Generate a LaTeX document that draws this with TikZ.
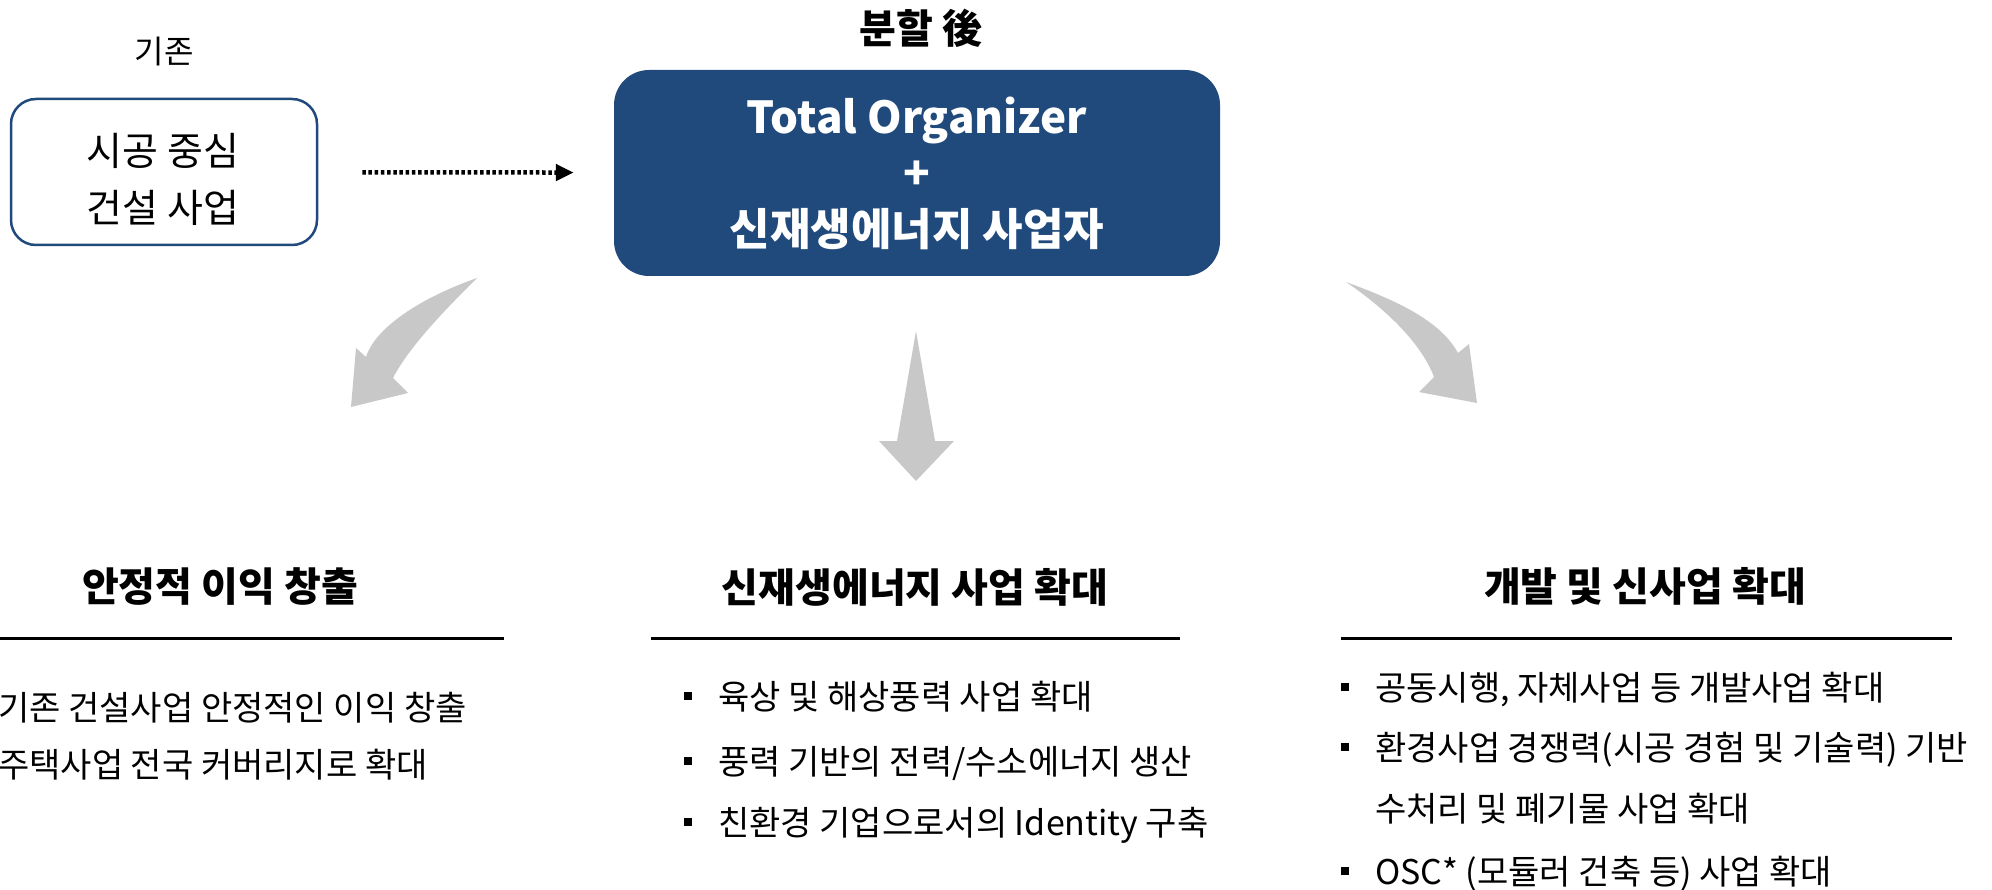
\documentclass[tikz,border=0pt]{standalone}
\usepackage{fontspec}
\setmainfont{Noto Sans CJK KR}
\usepackage{tikz}
\usetikzlibrary{arrows.meta,positioning,calc}
\definecolor{boxblue}{RGB}{33,74,124}
\definecolor{arrgray}{RGB}{200,200,200}
\newcommand{\bul}{\rule[9pt]{8pt}{8pt}\hspace{26pt}}

\begin{document}
\begin{tikzpicture}[x=1pt,y=-1pt,
 head/.style={anchor=base,inner sep=0pt,font=\fontsize{40}{48}\selectfont\bfseries},
 item/.style={anchor=base west,inner sep=0pt,font=\fontsize{34}{40}\selectfont},
 rule/.style={line width=3pt}]
\useasboundingbox (0,0) rectangle (1992,890);

\draw (164,52) node[font=\fontsize{32}{38}\selectfont] (old) {기존};
\draw (921,28) node[font=\fontsize{40}{48}\selectfont\bfseries] (after) {분할 後};

\draw (164,172) node[draw=boxblue, line width=2.5pt, rounded corners=25, minimum width=306, minimum height=146] (sA) {};
\draw (163,179) node[align=center, font=\fontsize{39}{57}\selectfont] (sAtext) {시공 중심\\건설 사업};
\draw (917,173) node[fill=boxblue, rounded corners=35, minimum width=606, minimum height=206, align=center, text=white, font=\fontsize{44}{56}\selectfont\bfseries] (sB) {Total Organizer\\+\\신재생에너지 사업자};

\path[line width=4.5pt, dash pattern=on 3.5pt off 2.7pt, -{Triangle[length=18pt,width=16pt]}, shorten <=44pt, shorten >=40pt]
(sA) edge (sB);

% gray arrows
\fill[arrgray] (477,278) .. controls (420,298) and (375,328) .. (366,357) -- (356,348) -- (351,407) -- (408,393) -- (393,378) .. controls (410,345) and (450,305) .. (477,278) -- cycle;
\fill[arrgray] (916,331) -- (935,441) -- (954,441) -- (916,481) -- (879,441) -- (897,441) -- cycle;
\fill[arrgray] (1346,282) .. controls (1395,300) and (1440,320) .. (1458,353) -- (1469,344) -- (1477,403) -- (1419,392) -- (1434,377) .. controls (1420,340) and (1380,305) .. (1346,282) -- cycle;

\draw (220,601) node[head] (tA) {안정적 이익 창출};
\draw (915,602) node[head] (tB) {신재생에너지 사업 확대};
\draw (1645,601) node[head] (tC) {개발 및 신사업 확대};

\draw[rule] (0,638) -- (504,638);
\draw[rule] (651,638) -- (1180,638);
\draw[rule] (1341,638) -- (1952,638);

\draw (-2,720) node[item] (aA) {기존 건설사업 안정적인 이익 창출};
\draw (-2,777) node[item] (aB) {주택사업 전국 커버리지로 확대};

\draw (684,709) node[item] (bA) {\bul 육상 및 해상풍력 사업 확대};
\draw (684,774) node[item] (bB) {\bul 풍력 기반의 전력/수소에너지 생산};
\draw (684,835) node[item] (bC) {\bul 친환경 기업으로서의 Identity 구축};

\draw (1341,700) node[item] (cA) {\bul 공동시행, 자체사업 등 개발사업 확대};
\draw (1341,760) node[item] (cB) {\bul 환경사업 경쟁력(시공 경험 및 기술력) 기반};
\draw (1375,821) node[item] (cC) {수처리 및 폐기물 사업 확대};
\draw (1341,884) node[item] (cD) {\bul OSC* (모듈러 건축 등) 사업 확대};

\end{tikzpicture}
\end{document}
